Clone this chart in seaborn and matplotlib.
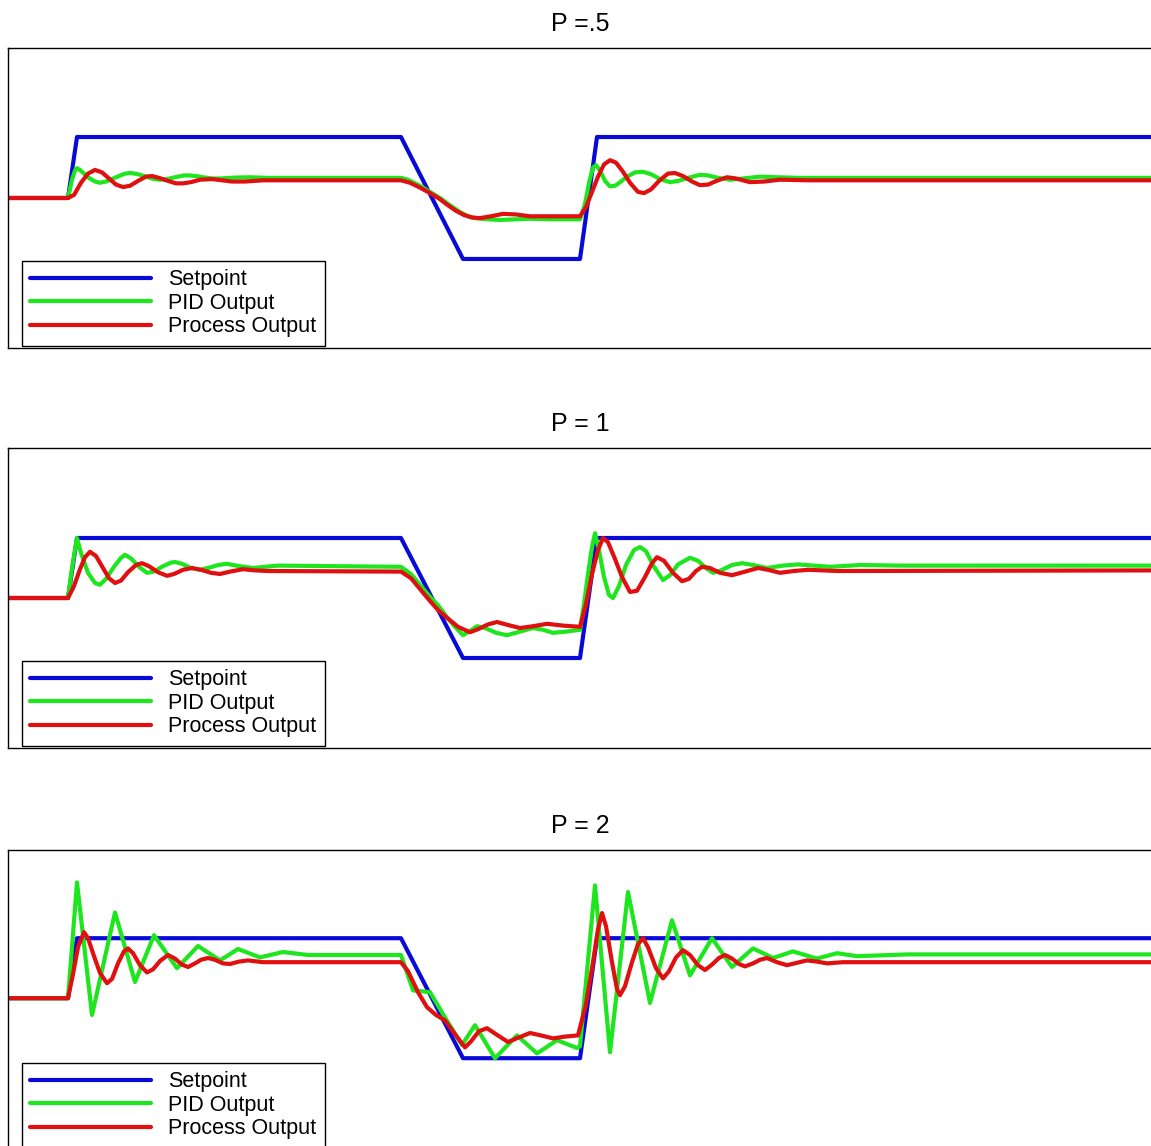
#!/usr/bin/env python3
"""
Respostas de um controlador PID para três ganhos proporcionais.
Setpoint, saída do PID e saída do processo.
"""

import pandas as pd
import matplotlib.pyplot as plt
import seaborn as sns


# setpoint (igual nos três painéis)
SP_T = [0, 60, 69, 393, 455, 572, 589, 1145]
SP_V = [0, 0, 1, 1, -1, -1, 1, 1]

# P = .5
PID1_T = [0, 60, 64, 67, 69, 72, 80, 87, 92, 98, 108, 117, 123, 130, 138, 146, 152, 159,
          167, 176, 182, 190, 197, 205, 212, 227, 242, 260, 393,
          400, 412, 422, 432, 442, 452, 460, 467, 480, 492, 507, 522, 545, 572,
          577, 581, 585, 588, 592, 597, 602, 607, 613, 619, 627, 635, 643, 652, 662, 670,
          680, 692, 700, 710, 722, 735, 752, 770, 792, 1145]
PID1_V = [0, 0, 0.30, 0.45, 0.49, 0.46, 0.34, 0.27, 0.25, 0.27, 0.34, 0.40, 0.41, 0.39,
          0.35, 0.31, 0.30, 0.31, 0.34, 0.37, 0.37, 0.355, 0.335, 0.32, 0.32, 0.335, 0.34,
          0.33, 0.33,
          0.30, 0.20, 0.10, 0.0, -0.12, -0.23, -0.30, -0.33, -0.35, -0.36, -0.35, -0.34,
          -0.35, -0.35,
          -0.10, 0.25, 0.50, 0.54, 0.45, 0.28, 0.19, 0.20, 0.27, 0.35, 0.42, 0.43, 0.39,
          0.31, 0.26, 0.28, 0.33, 0.38, 0.37, 0.33, 0.30, 0.32, 0.35, 0.34, 0.33, 0.33]
OUT1_T = [0, 60, 66, 73, 80, 87, 94, 101, 108, 115, 122, 130, 138, 144, 151, 160, 168,
          175, 183, 192, 204, 214, 224, 237, 255, 272, 393,
          402, 412, 422, 432, 440, 448, 456, 464, 472, 483, 495, 508, 522, 545, 572,
          578, 584, 590, 596, 602, 608, 615, 622, 630, 636, 643, 651, 660, 667, 675, 684,
          692, 700, 710, 719, 728, 742, 756, 772, 800, 1145]
OUT1_V = [0, 0, 0.05, 0.25, 0.40, 0.46, 0.42, 0.32, 0.22, 0.18, 0.20, 0.28, 0.35, 0.36,
          0.33, 0.28, 0.24, 0.24, 0.26, 0.30, 0.31, 0.29, 0.27, 0.27, 0.29, 0.29, 0.29,
          0.25, 0.17, 0.08, -0.02, -0.12, -0.21, -0.28, -0.32, -0.33, -0.30, -0.26, -0.27,
          -0.30, -0.30, -0.30,
          -0.15, 0.10, 0.35, 0.55, 0.62, 0.58, 0.43, 0.25, 0.10, 0.08, 0.14, 0.28, 0.40,
          0.41, 0.36, 0.27, 0.21, 0.22, 0.29, 0.34, 0.32, 0.26, 0.27, 0.30, 0.29, 0.29]

# P = 1
PID2_T = [0, 60, 64, 69, 73, 80, 87, 92, 98, 106, 113, 117, 123, 131, 139, 146, 155, 163,
          167, 174, 183, 192, 200, 210, 219, 228, 245, 257, 270, 393,
          403, 412, 422, 430, 439, 447, 455, 462, 469, 477, 488, 499, 512, 525, 535, 545,
          558, 572,
          576, 580, 584, 587, 591, 596, 601, 605, 611, 618, 626, 632, 638, 646, 655, 662,
          670, 682, 690, 698, 705, 713, 724, 734, 745, 759, 775, 790, 806, 822, 852, 892,
          1145]
PID2_V = [0, 0, 0.50, 1.0, 0.75, 0.42, 0.25, 0.22, 0.32, 0.52, 0.67, 0.72, 0.66, 0.52,
          0.42, 0.44, 0.53, 0.59, 0.60, 0.57, 0.50, 0.47, 0.50, 0.55, 0.57, 0.54, 0.50,
          0.52, 0.54, 0.52,
          0.40, 0.22, 0.02, -0.12, -0.32, -0.48, -0.62, -0.55, -0.47, -0.50, -0.58, -0.62,
          -0.56, -0.50, -0.53, -0.58, -0.56, -0.53,
          -0.10, 0.40, 0.85, 1.08, 0.80, 0.35, 0.05, 0.0, 0.20, 0.55, 0.80, 0.85, 0.78,
          0.52, 0.30, 0.38, 0.56, 0.67, 0.62, 0.50, 0.42, 0.46, 0.55, 0.58, 0.55, 0.50,
          0.54, 0.56, 0.54, 0.52, 0.55, 0.54, 0.54]
OUT2_T = [0, 60, 66, 72, 77, 82, 88, 95, 101, 107, 113, 120, 128, 134, 141, 150, 159,
          166, 175, 184, 193, 203, 212, 222, 235, 247, 260, 393,
          403, 412, 422, 430, 439, 450, 462, 470, 480, 489, 500, 512, 525, 539, 555, 572,
          578, 584, 590, 595, 600, 607, 614, 622, 629, 637, 644, 649, 656, 665, 674, 681,
          688, 694, 702, 712, 724, 735, 750, 760, 772, 786, 800, 830, 1145]
OUT2_V = [0, 0, 0.20, 0.48, 0.68, 0.77, 0.70, 0.50, 0.33, 0.25, 0.29, 0.43, 0.55, 0.58,
          0.53, 0.43, 0.37, 0.40, 0.47, 0.50, 0.47, 0.42, 0.40, 0.44, 0.48, 0.46, 0.45,
          0.44,
          0.33, 0.15, -0.05, -0.20, -0.33, -0.48, -0.57, -0.52, -0.44, -0.40, -0.45,
          -0.50, -0.47, -0.43, -0.46, -0.48,
          -0.10, 0.40, 0.80, 1.0, 0.93, 0.65, 0.35, 0.10, 0.12, 0.35, 0.58, 0.68, 0.62,
          0.42, 0.28, 0.32, 0.45, 0.52, 0.50, 0.42, 0.38, 0.43, 0.50, 0.47, 0.42, 0.45,
          0.47, 0.45, 0.46]

# P = 2
PID3_T = [0, 60, 69, 84, 107, 127, 146, 169, 190, 212, 230, 252, 275, 300, 393, 405, 422,
          437, 454, 467, 487, 509, 529, 549, 569, 572, 587, 602, 620, 642, 664, 682, 704,
          724, 745, 765, 785, 809, 829, 849, 900, 1145]
PID3_V = [0, 0, 1.93, -0.28, 1.43, 0.27, 1.05, 0.50, 0.87, 0.63, 0.82, 0.68, 0.77, 0.72,
          0.72, 0.13, 0.10, -0.32, -0.78, -0.45, -1.0, -0.62, -0.92, -0.70, -0.83, -0.80,
          1.88, -0.90, 1.77, -0.08, 1.30, 0.38, 1.0, 0.52, 0.83, 0.67, 0.78, 0.66, 0.75,
          0.70, 0.73, 0.73]
OUT3_T = [0, 60, 65, 70, 76, 80, 86, 92, 99, 104, 110, 116, 120, 125, 132, 139, 145, 152,
          160, 167, 174, 180, 187, 193, 200, 207, 215, 222, 231, 240, 255, 270, 393,
          400, 410, 419, 428, 437, 447, 457, 463, 471, 479, 488, 500, 510, 522, 533, 545,
          557, 570,
          578, 585, 590, 594, 598, 604, 609, 612, 617, 624, 630, 635, 640, 648, 655, 661,
          668, 675, 682, 690, 697, 704, 711, 717, 724, 731, 737, 745, 752, 759, 769, 779,
          789, 799, 809, 819, 835, 850, 1145]
OUT3_V = [0, 0, 0.40, 0.85, 1.10, 1.0, 0.70, 0.42, 0.25, 0.32, 0.58, 0.78, 0.83, 0.75,
          0.55, 0.43, 0.48, 0.62, 0.72, 0.66, 0.56, 0.52, 0.58, 0.64, 0.67, 0.64, 0.58,
          0.57, 0.61, 0.63, 0.60, 0.60, 0.60,
          0.45, 0.10, -0.15, -0.28, -0.37, -0.60, -0.82, -0.72, -0.55, -0.50, -0.60, -0.73,
          -0.66, -0.58, -0.62, -0.67, -0.64, -0.62,
          -0.10, 0.60, 1.15, 1.42, 1.20, 0.60, 0.15, 0.05, 0.20, 0.60, 0.90, 1.0, 0.85,
          0.50, 0.33, 0.45, 0.68, 0.80, 0.72, 0.55, 0.47, 0.56, 0.67, 0.72, 0.66, 0.57,
          0.53, 0.58, 0.64, 0.67, 0.60, 0.55, 0.59, 0.63, 0.61, 0.58, 0.60, 0.60, 0.60]

TITLES = ["P =.5", "P = 1", "P = 2"]
LABELS = ["Setpoint", "PID Output", "Process Output"]
CORES = ["#0a0ad8", "#1ee61e", "#e01010"]


def main():
    sns.set_style("white")
    plt.rcParams["font.family"] = ["Liberation Sans", "DejaVu Sans"]
    plt.rcParams["text.color"] = "black"

    fig = plt.figure(figsize=(11.51, 11.46), dpi=100)

    paineis = [
        (PID1_T, PID1_V, OUT1_T, OUT1_V, 0.69634, (-2.46, 2.46)),
        (PID2_T, PID2_V, OUT2_T, OUT2_V, 0.34729, (-2.5, 2.5)),
        (PID3_T, PID3_V, OUT3_T, OUT3_V, -0.00349, (-2.53, 2.47)),
    ]

    for i, (pt, pv, ot, ov, base, ylim) in enumerate(paineis):
        ax = fig.add_axes([8 / 1151, base, 1145 / 1151, 300 / 1146])
        series = [(SP_T, SP_V), (pt, pv), (ot, ov)]
        for (t, v), label, cor in zip(series, LABELS, CORES):
            df = pd.DataFrame({"t": t, "valor": v})
            sns.lineplot(data=df, x="t", y="valor", ax=ax, color=cor,
                         linewidth=3, label=label, estimator=None, sort=False)
        ax.set_xlim(0, 1145)
        ax.set_ylim(*ylim)
        ax.set_xticks([])
        ax.set_yticks([])
        ax.set_xlabel("")
        ax.set_ylabel("")
        for sp in ax.spines.values():
            sp.set_color("black")
            sp.set_linewidth(1.0)
        ax.set_title(TITLES[i], fontsize=18, pad=12, color="black")
        leg = ax.legend(loc="lower left", bbox_to_anchor=(0.012, 0.007),
                        borderaxespad=0, fontsize=15.5, handlelength=5.6,
                        handletextpad=0.8, labelspacing=0.12, borderpad=0.4,
                        fancybox=False, framealpha=1, edgecolor="black")
        for txt in leg.get_texts():
            txt.set_color("black")

    plt.savefig("out.png", dpi=100)
    plt.close()


if __name__ == "__main__":
    main()
